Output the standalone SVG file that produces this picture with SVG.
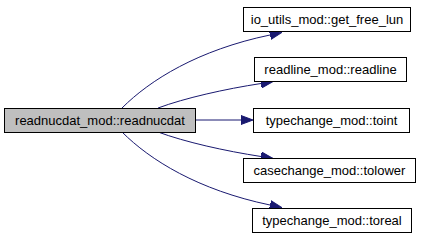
<svg xmlns="http://www.w3.org/2000/svg" width="424" height="240" viewBox="0 0 424 240">
  <style>
    .node rect { fill: #ffffff; stroke: #000000; stroke-width: 1; }
    .node.main rect { fill: #bfbfbf; }
    .node text { font-family: "Liberation Sans", Arial, Helvetica, sans-serif; font-size: 13px; text-anchor: middle; fill: #000000; }
    .edge { fill: none; stroke: #191970; stroke-width: 1; marker-end: url(#arrow); }
  </style>
  <defs>
    <marker id="arrow" markerUnits="userSpaceOnUse" markerWidth="12" markerHeight="10" refX="0" refY="5" orient="auto" viewBox="0 0 12 10">
      <path d="M0,0.5 L12,5 L0,9.5 z" fill="#191970" stroke="#191970" stroke-width="1"/>
    </marker>
  </defs>

  <!-- call edges -->
  <g id="edges">
    <path class="edge" d="M122,108 C150,80 198,50 270,35"/>
    <path class="edge" d="M158,108 C185,98 225,89 261,83.5"/>
    <path class="edge" d="M196,120 L241,120"/>
    <path class="edge" d="M158,132 C185,142 225,151 261,156.5"/>
    <path class="edge" d="M122,132 C150,160 198,190 270,205"/>
  </g>

  <g id="node-readnucdat" class="node main">
    <rect x="4.5" y="108.5" width="191" height="24"/>
    <text x="100" y="125">readnucdat_mod::readnucdat</text>
  </g>
  <g id="node-get_free_lun" class="node">
    <rect x="243.5" y="7.5" width="167" height="24"/>
    <text x="327" y="24">io_utils_mod::get_free_lun</text>
  </g>
  <g id="node-readline" class="node">
    <rect x="254.5" y="57.5" width="152" height="24"/>
    <text x="330.5" y="74">readline_mod::readline</text>
  </g>
  <g id="node-toint" class="node">
    <rect x="253.5" y="108.5" width="156" height="24"/>
    <text x="331.5" y="125">typechange_mod::toint</text>
  </g>
  <g id="node-tolower" class="node">
    <rect x="243.5" y="158.5" width="172" height="24"/>
    <text x="329.5" y="175">casechange_mod::tolower</text>
  </g>
  <g id="node-toreal" class="node">
    <rect x="252.5" y="208.5" width="159" height="24"/>
    <text x="332" y="225">typechange_mod::toreal</text>
  </g>
</svg>
